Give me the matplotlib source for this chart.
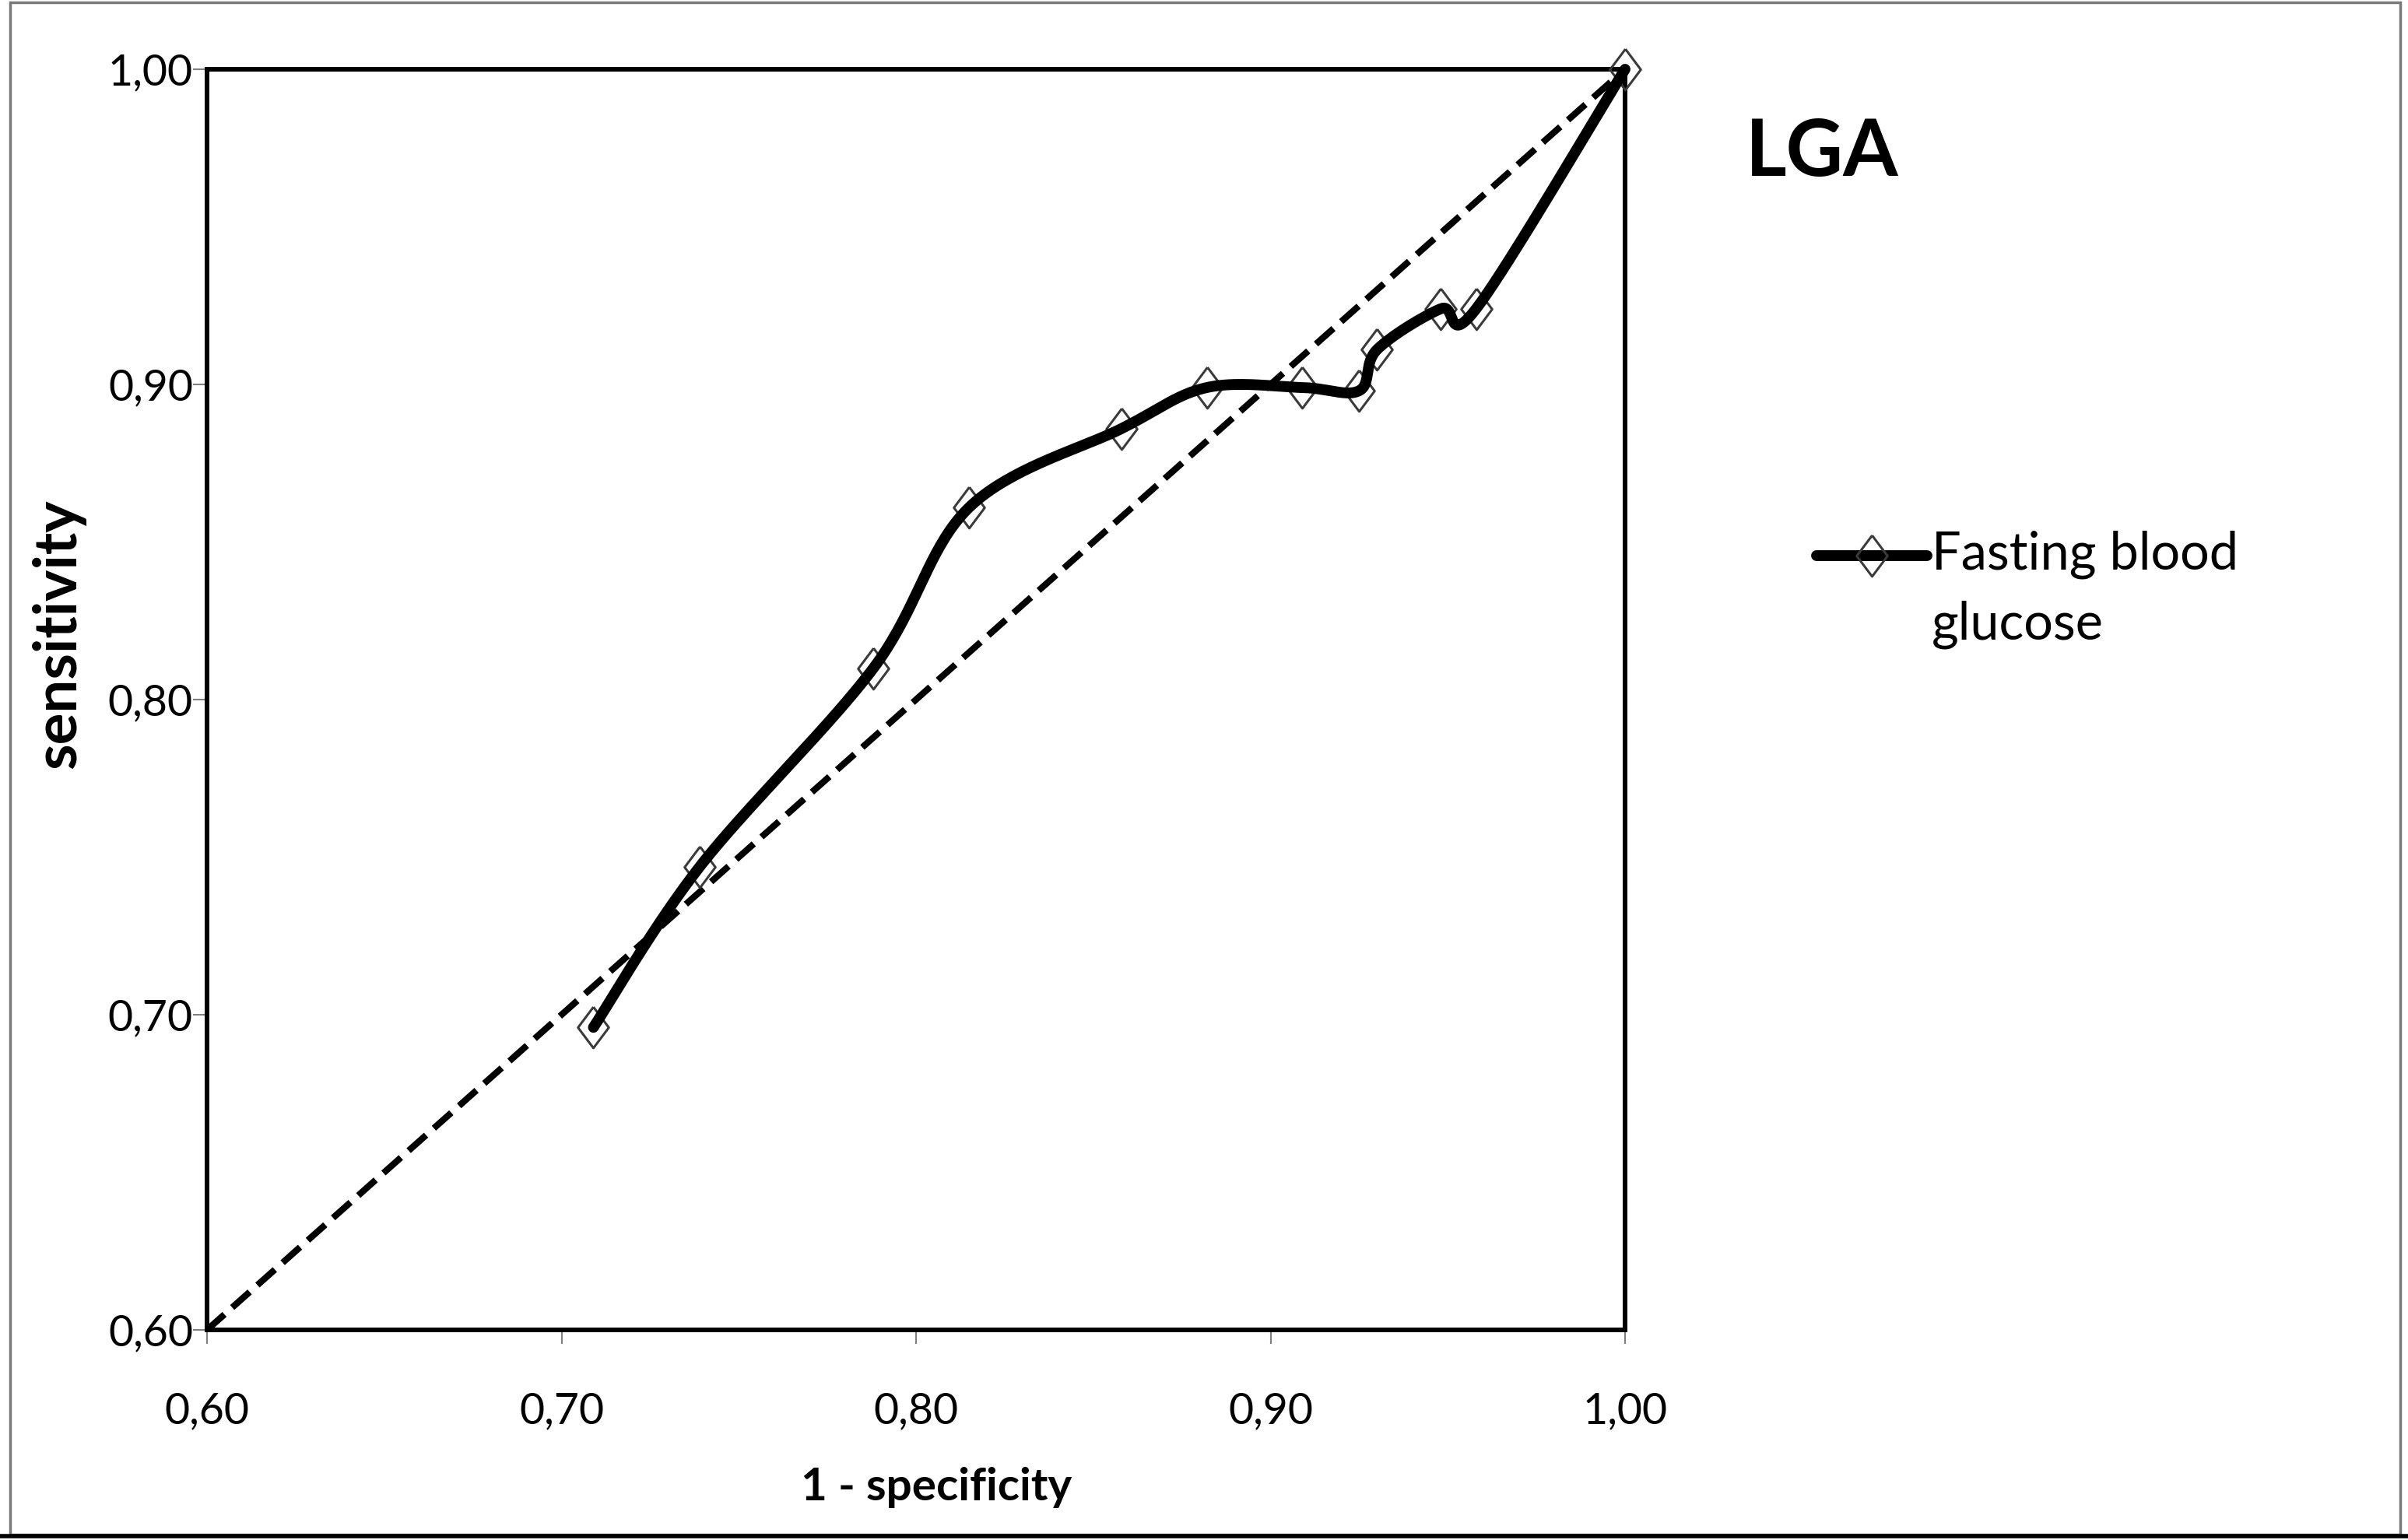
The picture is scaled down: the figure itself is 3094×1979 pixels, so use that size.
import numpy as np
import matplotlib
matplotlib.use("Agg")
import matplotlib.pyplot as plt
from matplotlib.lines import Line2D
from matplotlib.patches import Rectangle

# ---------------- data ----------------
fpr = [0.709, 0.739, 0.788, 0.815, 0.858, 0.882, 0.909, 0.925, 0.930, 0.948, 0.958, 1.000]
tpr = [0.696, 0.747, 0.810, 0.861, 0.886, 0.899, 0.899, 0.898, 0.911, 0.924, 0.924, 1.000]
ref_line = [0.60, 1.00]
ticks = [0.60, 0.70, 0.80, 0.90, 1.00]
tick_labels = ["0,60", "0,70", "0,80", "0,90", "1,00"]
series_name = "Fasting blood\nglucose"
title_text = "LGA"
xlabel_text = "1 - specificity"
ylabel_text = "sensitivity"

# ---------------- fonts ----------------
plt.rcParams["font.family"] = ["Lato", "DejaVu Sans"]

W, H, DPI = 3094, 1979, 100
fig = plt.figure(figsize=(W / DPI, H / DPI), dpi=DPI)
fig.patch.set_facecolor("white")

L, R, T, B = 266, 2088, 89, 1709
ax = fig.add_axes([L / W, 1 - B / H, (R - L) / W, (B - T) / H])
ax.set_xlim(0.6, 1.0)
ax.set_ylim(0.6, 1.0)


# Excel-like smoothed curve (Bezier through points, in pixel space)
def smooth(xs, ys, sx, sy, n=40):
    P = np.column_stack([np.asarray(xs) * sx, np.asarray(ys) * sy])
    out = [P[0]]
    m = len(P)
    for i in range(m - 1):
        p0 = P[i - 1] if i > 0 else P[i]
        p1 = P[i]
        p2 = P[i + 1]
        p3 = P[i + 2] if i + 2 < m else P[i + 1]
        b1 = p1 + (p2 - p0) / 6.0
        b2 = p2 - (p3 - p1) / 6.0
        t = np.linspace(0, 1, n)[1:, None]
        seg = ((1 - t) ** 3) * p1 + 3 * ((1 - t) ** 2) * t * b1 + 3 * (1 - t) * t ** 2 * b2 + t ** 3 * p2
        out.extend(seg)
    out = np.array(out)
    return out[:, 0] / sx, out[:, 1] / sy


sx = (R - L) / 0.4
sy = (B - T) / 0.4
cx, cy = smooth(fpr, tpr, sx, sy)

diamond = [(0, 1), (0.75, 0), (0, -1), (-0.75, 0), (0, 1)]
MARK = dict(marker=diamond, markersize=38, markerfacecolor="none",
            markeredgecolor="#3a3a3a", markeredgewidth=2.2)

# reference diagonal
ax.plot(ref_line, ref_line, color="black", lw=6, linestyle=(0, (3.6, 1.6)),
        dash_capstyle="butt", zorder=2, clip_on=False)
# markers
ax.plot(fpr, tpr, linestyle="none", zorder=3, clip_on=False, **MARK)
# smoothed curve
ax.plot(cx, cy, color="black", lw=10, solid_capstyle="round", zorder=4, clip_on=False)

# axes styling
for s in ax.spines.values():
    s.set_linewidth(4.3)
    s.set_color("black")
ax.set_xticks(ticks)
ax.set_yticks(ticks)
ax.set_xticklabels(tick_labels)
ax.set_yticklabels(tick_labels)
ax.tick_params(axis="both", direction="out", length=13, width=1.5, color="#808080",
               labelsize=40, labelcolor="black")
ax.tick_params(axis="x", pad=44)
ax.tick_params(axis="y", pad=0)

ax.set_xlabel(xlabel_text, fontsize=42, fontweight="bold", va="center")
ax.xaxis.set_label_coords((1203 - L) / (R - L), (B - 1912) / (B - T))
ax.set_ylabel(ylabel_text, fontsize=55, fontweight="bold", va="center")
ax.yaxis.set_label_coords((75 - L) / (R - L), (B - 815) / (B - T))

# title-like annotation
fig.text(2243 / W, 1 - 197 / H, title_text, fontsize=73, fontweight="bold",
         ha="left", va="center")

# legend (manual, placed like the reference)
ly = 1 - 714 / H
fig.add_artist(Line2D([2334 / W, 2476 / W], [ly, ly], transform=fig.transFigure,
                      color="black", lw=10, solid_capstyle="round"))
fig.add_artist(Line2D([2405 / W], [ly], transform=fig.transFigure, linestyle="none", **MARK))
fig.text(2482 / W, 1 - 682 / H, series_name, fontsize=48, ha="left", va="top",
         linespacing=1.55)

# outer chart border
fig.add_artist(Rectangle((13 / W, 1 - 1972 / H), (3084 - 13) / W, (1972 - 3) / H,
                         transform=fig.transFigure, fill=False, edgecolor="#7a7a7a", lw=2.5))
fig.add_artist(Line2D([0, 1], [1 - 1974 / H, 1 - 1974 / H], transform=fig.transFigure,
                      color="black", lw=4))

fig.savefig("out.png", dpi=DPI, facecolor="white")
